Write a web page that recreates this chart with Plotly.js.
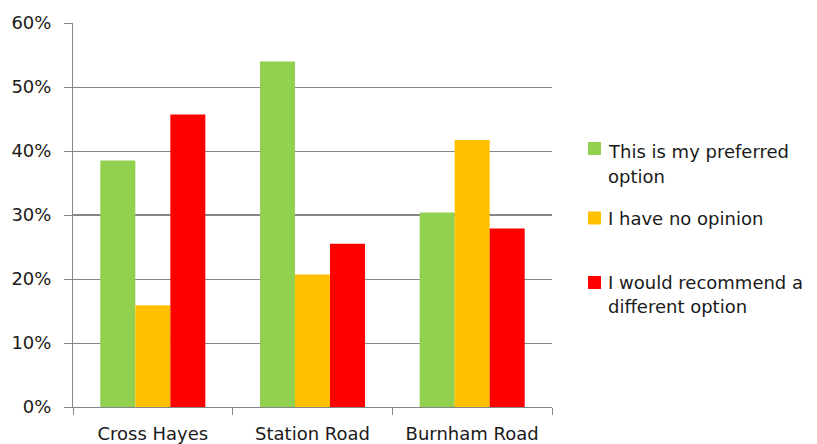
<!DOCTYPE html>
<html>
<head>
<meta charset="utf-8">
<script src="https://cdn.plot.ly/plotly-3.0.1.min.js"></script>
<style>
  html, body { margin: 0; padding: 0; background: #fff; }
  #chart { width: 817px; height: 444px; }
</style>
</head>
<body>
<div id="chart"></div>
<script>
// Survey results: share of responses per site option
const categories = ['Cross Hayes', 'Station Road', 'Burnham Road'];
const seriesNames = ['This is my preferred<br>option', 'I have no opinion', 'I would recommend a<br>different option'];
const preferred = [0.385, 0.540, 0.304];
const noOpinion = [0.159, 0.207, 0.417];
const different = [0.457, 0.255, 0.279];
const seriesColors = ['#92D050', '#FFC000', '#FF0000'];
const yTickValues = [0, 0.1, 0.2, 0.3, 0.4, 0.5, 0.6];

const W = 817, H = 444;
const M = { l: 73, r: 265, t: 23, b: 37 };
const plotW = W - M.l - M.r, plotH = H - M.t - M.b;
const px2x = px => (px - M.l) / plotW;
const py2y = py => (H - M.b - py) / plotH;

const seriesValues = [preferred, noOpinion, different];
const traces = seriesValues.map((vals, i) => ({
  type: 'bar',
  name: seriesNames[i],
  x: categories,
  y: vals,
  marker: { color: seriesColors[i], line: { width: 0 } },
  hoverinfo: 'x+y'
}));

const textFont = { family: 'DejaVu Sans, sans-serif', size: 18, color: '#1a1a1a' };
const gray = '#868686';

// Legend built from the series names: one swatch per series, text line by line
const legendRows = [
  { swatchY: 148.5, lineY: [151, 176] },
  { swatchY: 218, lineY: [218] },
  { swatchY: 282.5, lineY: [282, 306] }
];
const shapes = [
  // emphasised 30% gridline
  { type: 'line', xref: 'paper', x0: 0, x1: 1, yref: 'y', y0: 0.3, y1: 0.3,
    line: { color: gray, width: 2 }, layer: 'below' }
];
const annotations = [];
legendRows.forEach((row, i) => {
  shapes.push({
    type: 'rect', xref: 'paper', yref: 'paper',
    x0: px2x(588), x1: px2x(601),
    y0: py2y(row.swatchY + 6.5), y1: py2y(row.swatchY - 6.5),
    fillcolor: seriesColors[i], line: { width: 0 }
  });
  seriesNames[i].split('<br>').forEach((line, k) => {
    annotations.push({
      xref: 'paper', yref: 'paper',
      x: px2x(606), y: py2y(row.lineY[k]),
      xanchor: 'left', yanchor: 'middle',
      text: line, showarrow: false, font: textFont
    });
  });
});

const layout = {
  width: W, height: H,
  margin: M,
  paper_bgcolor: '#fff', plot_bgcolor: '#fff',
  barmode: 'group',
  bargap: 0.342,
  bargroupgap: 0,
  showlegend: false,
  font: textFont,
  xaxis: {
    type: 'category',
    tickson: 'boundaries',
    ticks: 'outside', ticklen: 7, tickwidth: 1, tickcolor: gray,
    showline: true, linecolor: gray, linewidth: 1,
    showgrid: false, zeroline: false,
    tickfont: textFont,
    ticklabelstandoff: 10,
    fixedrange: true
  },
  yaxis: {
    range: [0, 0.6],
    tickvals: yTickValues,
    tickformat: '.0%',
    ticks: 'outside', ticklen: 8, tickwidth: 1, tickcolor: gray,
    showline: true, linecolor: gray, linewidth: 1,
    showgrid: true, gridcolor: gray, gridwidth: 1,
    zeroline: false,
    tickfont: textFont,
    ticklabelstandoff: 9,
    fixedrange: true
  },
  shapes: shapes,
  annotations: annotations
};

Plotly.newPlot('chart', traces, layout, { displayModeBar: false, staticPlot: true });
</script>
</body>
</html>
